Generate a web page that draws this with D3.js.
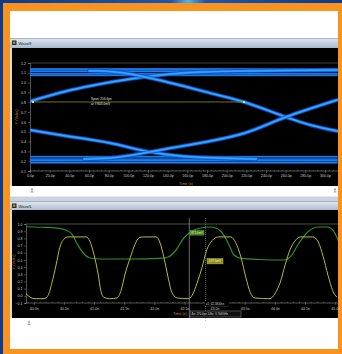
<!DOCTYPE html>
<html>
<head>
<meta charset="utf-8">
<script src="https://cdn.jsdelivr.net/npm/d3@7"></script>
<style>
html,body{margin:0;padding:0;background:#123f8c;overflow:hidden}
svg{display:block}
text{font-family:"Liberation Sans","DejaVu Sans",sans-serif}
</style>
</head>
<body>
<svg id="c" width="342" height="354"></svg>
<script>
// ---------- Eye diagram (time in ps, level in V) ----------
const eyeTicksX = [0, 20, 40, 60, 80, 100, 120, 140, 160, 180, 200, 220, 240, 260, 280, 300];
const eyeTicksY = [0.1, 0.2, 0.3, 0.4, 0.5, 0.6, 0.7, 0.8, 0.9, 1.0, 1.1, 1.2];
const railHigh = [1.14, 1.13, 1.115, 1.09, 1.075];
const railLow = [0.245, 0.22, 0.205, 0.185];
const railSpan = [0, 312.2];
const riseA = [[0, 0.81], [37.6, 0.915], [61, 0.966], [101.7, 1.037], [143.4, 1.088], [172.9, 1.108], [223.7, 1.119], [312.2, 1.129]];
const fallB = [[60, 1.12], [71.2, 1.119], [101.7, 1.088], [122, 1.047], [143.4, 0.996], [183.1, 0.894], [217.6, 0.803], [260.3, 0.650], [284.7, 0.569], [312.2, 0.507]];
const fallC = [[0, 0.518], [30.5, 0.467], [81.4, 0.385], [122, 0.294], [152.5, 0.253], [193.2, 0.232], [230, 0.222]];
const riseD = [[55, 0.222], [81.4, 0.232], [122, 0.294], [143.4, 0.334], [172.9, 0.385], [218.6, 0.487], [260.3, 0.650], [312.2, 0.823]];
const spanLevel = 0.803, spanStart = 3.0, spanEnd = 217.6;

// ---------- Transient waveforms (time in ns, level in V) ----------
const waveTicksX = [40, 40.5, 41, 41.5, 42, 42.5, 43, 43.5, 44, 44.5, 45];
const waveTicksY = [-0.1, 0, 0.1, 0.2, 0.3, 0.4, 0.5, 0.6, 0.7, 0.8, 0.9, 1.0];
const yellowWave = [[39.87, 0.03], [39.94, -0.02], [40.02, -0.04], [40.17, -0.04], [40.24, 0.01], [40.30, 0.18], [40.37, 0.43], [40.43, 0.67], [40.50, 0.79], [40.57, 0.82], [40.87, 0.82], [40.93, 0.76], [41.00, 0.57], [41.07, 0.29], [41.11, 0.08], [41.16, -0.02], [41.26, -0.04], [41.38, -0.03], [41.45, 0.08], [41.51, 0.29], [41.60, 0.53], [41.68, 0.72], [41.75, 0.81], [41.81, 0.82], [42.03, 0.82], [42.09, 0.75], [42.16, 0.53], [42.23, 0.25], [42.29, 0.05], [42.38, -0.03], [42.56, -0.04], [42.63, 0.01], [42.71, 0.18], [42.79, 0.39], [42.87, 0.64], [42.96, 0.77], [43.06, 0.82], [43.27, 0.82], [43.35, 0.74], [43.44, 0.53], [43.52, 0.25], [43.59, 0.05], [43.67, -0.03], [43.92, -0.04], [44.00, 0.03], [44.09, 0.19], [44.17, 0.43], [44.25, 0.64], [44.33, 0.76], [44.42, 0.82], [44.63, 0.82], [44.72, 0.75], [44.80, 0.55], [44.88, 0.29], [44.96, 0.07], [45.03, -0.02]];
const greenWave = [[39.87, 0.962], [40.19, 0.954], [40.43, 0.940], [40.53, 0.916], [40.63, 0.861], [40.73, 0.708], [40.82, 0.596], [40.93, 0.527], [41.10, 0.513], [41.60, 0.513], [42.09, 0.520], [42.23, 0.540], [42.36, 0.638], [42.49, 0.805], [42.61, 0.893], [42.77, 0.944], [42.94, 0.958], [43.11, 0.893], [43.24, 0.708], [43.32, 0.568], [43.44, 0.522], [43.75, 0.506], [44.15, 0.499], [44.28, 0.568], [44.38, 0.708], [44.55, 0.893], [44.71, 0.958], [44.88, 0.958], [44.98, 0.893], [45.06, 0.754]];
const cursor1 = 42.58, cursor2 = 42.85;

const svg = d3.select("#c");
const defs = svg.append("defs");

// backdrop gradient
const bg = defs.append("linearGradient").attr("id", "bg").attr("x1", 0).attr("y1", 0).attr("x2", 1).attr("y2", 0);
bg.append("stop").attr("offset", 0).attr("stop-color", "#0d3a8c");
bg.append("stop").attr("offset", 0.5).attr("stop-color", "#1a56b0");
bg.append("stop").attr("offset", 0.55).attr("stop-color", "#4fb4ee");
bg.append("stop").attr("offset", 0.6).attr("stop-color", "#1a56b0");
bg.append("stop").attr("offset", 1).attr("stop-color", "#0d3a8c");

const tb = defs.append("linearGradient").attr("id", "tb").attr("x1", 0).attr("y1", 0).attr("x2", 0).attr("y2", 1);
tb.append("stop").attr("offset", 0).attr("stop-color", "#e2e8ef");
tb.append("stop").attr("offset", 1).attr("stop-color", "#a9b9cb");

defs.append("clipPath").attr("id", "clipU").append("rect").attr("x", 30).attr("y", 48).attr("width", 308).attr("height", 138);
defs.append("clipPath").attr("id", "clipL").append("rect").attr("x", 26).attr("y", 210).attr("width", 312).attr("height", 108);

svg.append("rect").attr("width", 342).attr("height", 354).attr("fill", "url(#bg)");
svg.append("rect").attr("x", 3).attr("y", 3).attr("width", 339).attr("height", 351).attr("fill", "#f7931e");
svg.append("rect").attr("x", 10).attr("y", 11).attr("width", 328).attr("height", 338).attr("fill", "#ffffff");

// window chrome
function titleBar(y, label) {
  svg.append("rect").attr("x", 10).attr("y", y).attr("width", 328).attr("height", 10).attr("fill", "url(#tb)");
  svg.append("line").attr("x1", 10).attr("x2", 338).attr("y1", y + 0.5).attr("y2", y + 0.5).attr("stroke", "#7d90a6").attr("stroke-width", 0.6);
  svg.append("rect").attr("x", 12).attr("y", y + 2.5).attr("width", 4.5).attr("height", 4.5).attr("fill", "#2b2b2b");
  svg.append("rect").attr("x", 13.2).attr("y", y + 3.7).attr("width", 2).attr("height", 2).attr("fill", "#9bc23a");
  svg.append("text").attr("x", 18.5).attr("y", y + 6.8).attr("font-size", 4.2).attr("fill", "#222").text(label);
}
titleBar(38, "Wave9");
svg.append("rect").attr("x", 10).attr("y", 48).attr("width", 328).attr("height", 138).attr("fill", "#d3dbe4");
svg.append("rect").attr("x", 12).attr("y", 48).attr("width", 326).attr("height", 138).attr("fill", "#000");
svg.append("rect").attr("x", 10).attr("y", 196.5).attr("width", 328).attr("height", 4.5).attr("fill", "#c9d4e0");
titleBar(201, "Wave5");
svg.append("rect").attr("x", 10).attr("y", 210).attr("width", 328).attr("height", 108).attr("fill", "#d3dbe4");
svg.append("rect").attr("x", 12).attr("y", 210).attr("width", 326).attr("height", 108).attr("fill", "#000");

// small status-bar glyphs
function glyph(x, y) {
  const g = svg.append("g").attr("stroke", "#777").attr("stroke-width", 0.6).attr("fill", "none");
  g.append("line").attr("x1", x).attr("x2", x).attr("y1", y).attr("y2", y + 4);
  g.append("line").attr("x1", x - 1.5).attr("x2", x + 1.5).attr("y1", y + 4).attr("y2", y + 4);
  g.append("line").attr("x1", x - 1).attr("x2", x + 1).attr("y1", y + 1.5).attr("y2", y + 1.5);
}
glyph(32, 188);
glyph(335, 188);
glyph(29, 320.5);

function styleAxis(g) {
  g.select(".domain").attr("stroke", "#8a8a8a").attr("stroke-width", 0.6);
  g.selectAll(".tick line").attr("stroke", "#8a8a8a").attr("stroke-width", 0.5);
  g.selectAll(".tick text").attr("fill", "#c8c8c8").attr("font-size", 3.6).attr("font-family", "Liberation Sans, DejaVu Sans, sans-serif");
}

// ---------- upper plot: eye diagram ----------
const ux = d3.scaleLinear().domain([0, 300]).range([30, 325]);
const uy = d3.scaleLinear().domain([0.1, 1.2]).range([171, 63]);

svg.append("line").attr("x1", 30).attr("x2", 338).attr("y1", uy(1.2)).attr("y2", uy(1.2)).attr("stroke", "#5a5a5a").attr("stroke-width", 0.7);

const uxAxis = svg.append("g").attr("transform", "translate(0,171)")
  .call(d3.axisBottom(ux).tickValues(eyeTicksX).tickSize(2).tickPadding(1.5).tickFormat(d => d.toFixed(1) + "p"));
styleAxis(uxAxis);
uxAxis.select(".domain").attr("d", "M30,0H338");
svg.append("g").attr("transform", "translate(0,171)")
  .call(d3.axisBottom(ux).tickValues(d3.range(0, 312, 4)).tickSize(-1.2).tickFormat(""))
  .call(g => { g.select(".domain").remove(); g.selectAll("line").attr("stroke", "#9a9a9a").attr("stroke-width", 0.4); });

const uyAxis = svg.append("g").attr("transform", "translate(30,0)")
  .call(d3.axisLeft(uy).tickValues(eyeTicksY).tickSize(2).tickPadding(2).tickFormat(d3.format(".1f")));
styleAxis(uyAxis);

svg.append("text").attr("x", 186).attr("y", 184.6).attr("text-anchor", "middle").attr("font-size", 3.8).attr("fill", "#d2832e").text("Time (s)");
svg.append("text").attr("transform", "translate(18,117) rotate(-90)").attr("text-anchor", "middle").attr("font-size", 4).attr("fill", "#d2832e").text("Y (Volts)");

const eyeLine = d3.line().x(d => ux(d[0])).y(d => uy(d[1])).curve(d3.curveMonotoneX);
const eye = svg.append("g").attr("clip-path", "url(#clipU)").attr("fill", "none").attr("stroke-linecap", "round");

railHigh.concat(railLow).forEach(v => {
  const pts = railSpan.map(t => [t, v]);
  eye.append("path").attr("d", eyeLine(pts)).attr("stroke", "#0b56c4").attr("stroke-width", 2).attr("opacity", 0.85);
  eye.append("path").attr("d", eyeLine(pts)).attr("stroke", "#2b92ff").attr("stroke-width", 0.9);
});
[riseA, fallB, fallC, riseD].forEach(tr => {
  eye.append("path").attr("d", eyeLine(tr)).attr("stroke", "#0a4fb8").attr("stroke-width", 4.2).attr("opacity", 0.8);
  eye.append("path").attr("d", eyeLine(tr)).attr("stroke", "#1f8bff").attr("stroke-width", 2.4);
  eye.append("path").attr("d", eyeLine(tr)).attr("stroke", "#6cc2ff").attr("stroke-width", 0.7).attr("opacity", 0.7);
});

// span measurement
svg.append("line").attr("x1", ux(spanStart)).attr("x2", ux(spanEnd)).attr("y1", uy(spanLevel)).attr("y2", uy(spanLevel))
  .attr("stroke", "#8f8f1e").attr("stroke-width", 0.8);
[spanStart, spanEnd].forEach(t => {
  svg.append("rect").attr("x", ux(t) - 1).attr("y", uy(spanLevel) - 1).attr("width", 2).attr("height", 2).attr("fill", "#d6e86a");
});
svg.append("text").attr("x", 91).attr("y", 100).attr("font-size", 3.2).attr("fill", "#e8e8e8")
  .text("Span: " + (spanEnd - spanStart).toFixed(1) + "ps");
svg.append("text").attr("x", 91).attr("y", 105).attr("font-size", 3.2).attr("fill", "#e8e8e8")
  .text("at Y:" + (spanLevel * 1000).toFixed(1) + "mV");

// ---------- lower plot: transient waveforms ----------
const lx = d3.scaleLinear().domain([40, 45]).range([33.8, 335.15]);
const ly = d3.scaleLinear().domain([-0.1, 1.0]).range([303, 224]);

svg.append("line").attr("x1", 26).attr("x2", 338).attr("y1", ly(1.0)).attr("y2", ly(1.0)).attr("stroke", "#6e6e6e").attr("stroke-width", 0.7);

const lxAxis = svg.append("g").attr("transform", "translate(0,303)")
  .call(d3.axisBottom(lx).tickValues(waveTicksX).tickSize(2).tickPadding(2).tickFormat(d => d.toFixed(1) + "n"));
styleAxis(lxAxis);
lxAxis.select(".domain").attr("d", "M26,0H338");
svg.append("g").attr("transform", "translate(0,303)")
  .call(d3.axisBottom(lx).tickValues(d3.range(39.9, 45.05, 0.1)).tickSize(-1.2).tickFormat(""))
  .call(g => { g.select(".domain").remove(); g.selectAll("line").attr("stroke", "#9a9a9a").attr("stroke-width", 0.4); });

const lyAxis = svg.append("g").attr("transform", "translate(26,0)")
  .call(d3.axisLeft(ly).tickValues(waveTicksY).tickSize(2).tickPadding(1.5).tickFormat(d3.format(".1f")));
styleAxis(lyAxis);

svg.append("text").attr("transform", "translate(15,262) rotate(-90)").attr("text-anchor", "middle").attr("font-size", 4).attr("fill", "#b8722a").text("Y (Volts)");

const waveLine = d3.line().x(d => lx(d[0])).y(d => ly(d[1])).curve(d3.curveMonotoneX);
const wave = svg.append("g").attr("clip-path", "url(#clipL)").attr("fill", "none");
wave.append("path").attr("d", waveLine(greenWave)).attr("stroke", "#2f8f2a").attr("stroke-width", 1.2);
wave.append("path").attr("d", waveLine(yellowWave)).attr("stroke", "#b9b93a").attr("stroke-width", 1);

// cursors
svg.append("line").attr("x1", lx(cursor1)).attr("x2", lx(cursor1)).attr("y1", 218).attr("y2", 318).attr("stroke", "#9a9a9a").attr("stroke-width", 0.7);
svg.append("line").attr("x1", lx(cursor2)).attr("x2", lx(cursor2)).attr("y1", 218).attr("y2", 322).attr("stroke", "#9a9a9a").attr("stroke-width", 0.6).attr("stroke-dasharray", "1,1");

function valueAt(series, t) {
  const i = d3.bisector(d => d[0]).left(series, t);
  const a = series[Math.max(0, i - 1)], b = series[Math.min(series.length - 1, i)];
  if (a[0] === b[0]) return a[1];
  return a[1] + (b[1] - a[1]) * (t - a[0]) / (b[0] - a[0]);
}
const gVal = valueAt(greenWave, cursor1);
const yVal = valueAt(yellowWave, cursor2);

svg.append("rect").attr("x", 190).attr("y", 230.5).attr("width", 14).attr("height", 4.6).attr("fill", "#3f7d1e").attr("stroke", "#86c24a").attr("stroke-width", 0.4);
svg.append("text").attr("x", 197).attr("y", 233.9).attr("text-anchor", "middle").attr("font-size", 2.9).attr("fill", "#e6f5cf").text((gVal * 1000).toFixed(1) + "mV");
svg.append("rect").attr("x", 207).attr("y", 258.5).attr("width", 16).attr("height", 5.4).attr("fill", "#8d8d1c").attr("stroke", "#d2d24e").attr("stroke-width", 0.4);
svg.append("text").attr("x", 215).attr("y", 262.4).attr("text-anchor", "middle").attr("font-size", 3).attr("fill", "#fbfbd8").text((yVal * 1000).toFixed(1) + "mV");

svg.append("rect").attr("x", 205).attr("y", 301.5).attr("width", 24).attr("height", 4.5).attr("fill", "#000");
svg.append("text").attr("x", 206).attr("y", 305).attr("font-size", 2.9).attr("fill", "#cfcfcf").text("x1: " + cursor1.toFixed(4) + "ns");
svg.append("line").attr("x1", 205).attr("x2", 229).attr("y1", 306.3).attr("y2", 306.3).attr("stroke", "#888").attr("stroke-width", 0.3);

svg.append("text").attr("x", 173).attr("y", 314.5).attr("font-size", 3.8).attr("fill", "#d2832e").text("Time (s)");
svg.append("rect").attr("x", 190).attr("y", 311).attr("width", 51).attr("height", 6).attr("fill", "#101010").attr("stroke", "#a8a8a8").attr("stroke-width", 0.4);
const dx = cursor2 - cursor1;
svg.append("text").attr("x", 191.5).attr("y", 315.2).attr("font-size", 2.9).attr("fill", "#d8d8d8")
  .text("\u0394x: " + (dx * 1000).toFixed(1) + "ps   1/\u0394x: " + (1 / dx).toFixed(3) + "GHz");
</script>
</body>
</html>
